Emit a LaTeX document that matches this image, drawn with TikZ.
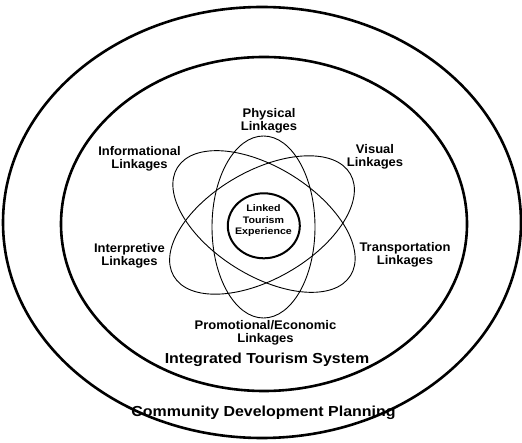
\documentclass[tikz,border=0pt]{standalone}
\usepackage{fontspec}
\setmainfont{Liberation Sans}
\newfontfamily\lblfont[FakeStretch=1.04]{Liberation Sans}
\newfontfamily\bigfont[FakeStretch=1.1]{Liberation Sans}
\newfontfamily\ctrfont[FakeStretch=1.12]{Liberation Sans}
\begin{document}
\begin{tikzpicture}[x=1pt,y=-1pt,
  ring/.style={draw=black,line width=2.6pt},
  orbit/.style={draw=black,line width=0.9pt},
  core/.style={draw=black,line width=2pt},
  lbl/.style={align=center,inner sep=0pt,anchor=base,font=\lblfont\bfseries\fontsize{12.5}{13.2}\selectfont},
  biglbl/.style={inner sep=0pt,anchor=base,font=\bigfont\bfseries\fontsize{14.5}{16}\selectfont},
  ctrlbl/.style={align=center,inner sep=0pt,anchor=base,font=\ctrfont\bfseries\fontsize{9.5}{11.7}\selectfont}]
\useasboundingbox (0,0) rectangle (522,443);
% outer rings
\draw[ring] (262,222.5) ellipse [x radius=259, y radius=215.5];
\draw[ring] (264,224) ellipse [x radius=203, y radius=167];
% orbits
\draw[orbit] (263.5,227) ellipse [x radius=51.5, y radius=91];
\draw[orbit, rotate around={-32:(264,221.5)}] (264,221.5) ellipse [x radius=102, y radius=54];
\draw[orbit, rotate around={30:(262,225)}] (262,225) ellipse [x radius=102, y radius=54];
% core
\draw[core] (263.8,225.8) ellipse [x radius=36, y radius=32.5];
% labels (base anchor = baseline of last line)
\node[ctrlbl] (lte) at (263.5,235) {Linked\\Tourism\\Experience};
\node[lbl] (phys) at (269,130.7) {Physical\\Linkages};
\node[lbl] (info) at (139.5,168.5) {Informational\\Linkages};
\node[lbl] (vis) at (375,166.7) {Visual\\Linkages};
\node[lbl] (interp) at (129.5,265.5) {Interpretive\\Linkages};
\node[lbl] (trans) at (405,264.5) {Transportation\\Linkages};
\node[lbl] (promo) at (265.5,343) {Promotional/Economic\\Linkages};
\node[biglbl] (its) at (267,363.3) {Integrated Tourism System};
\node[biglbl] (cdp) at (263.5,416.7) {Community Development Planning};
\end{tikzpicture}
\end{document}
